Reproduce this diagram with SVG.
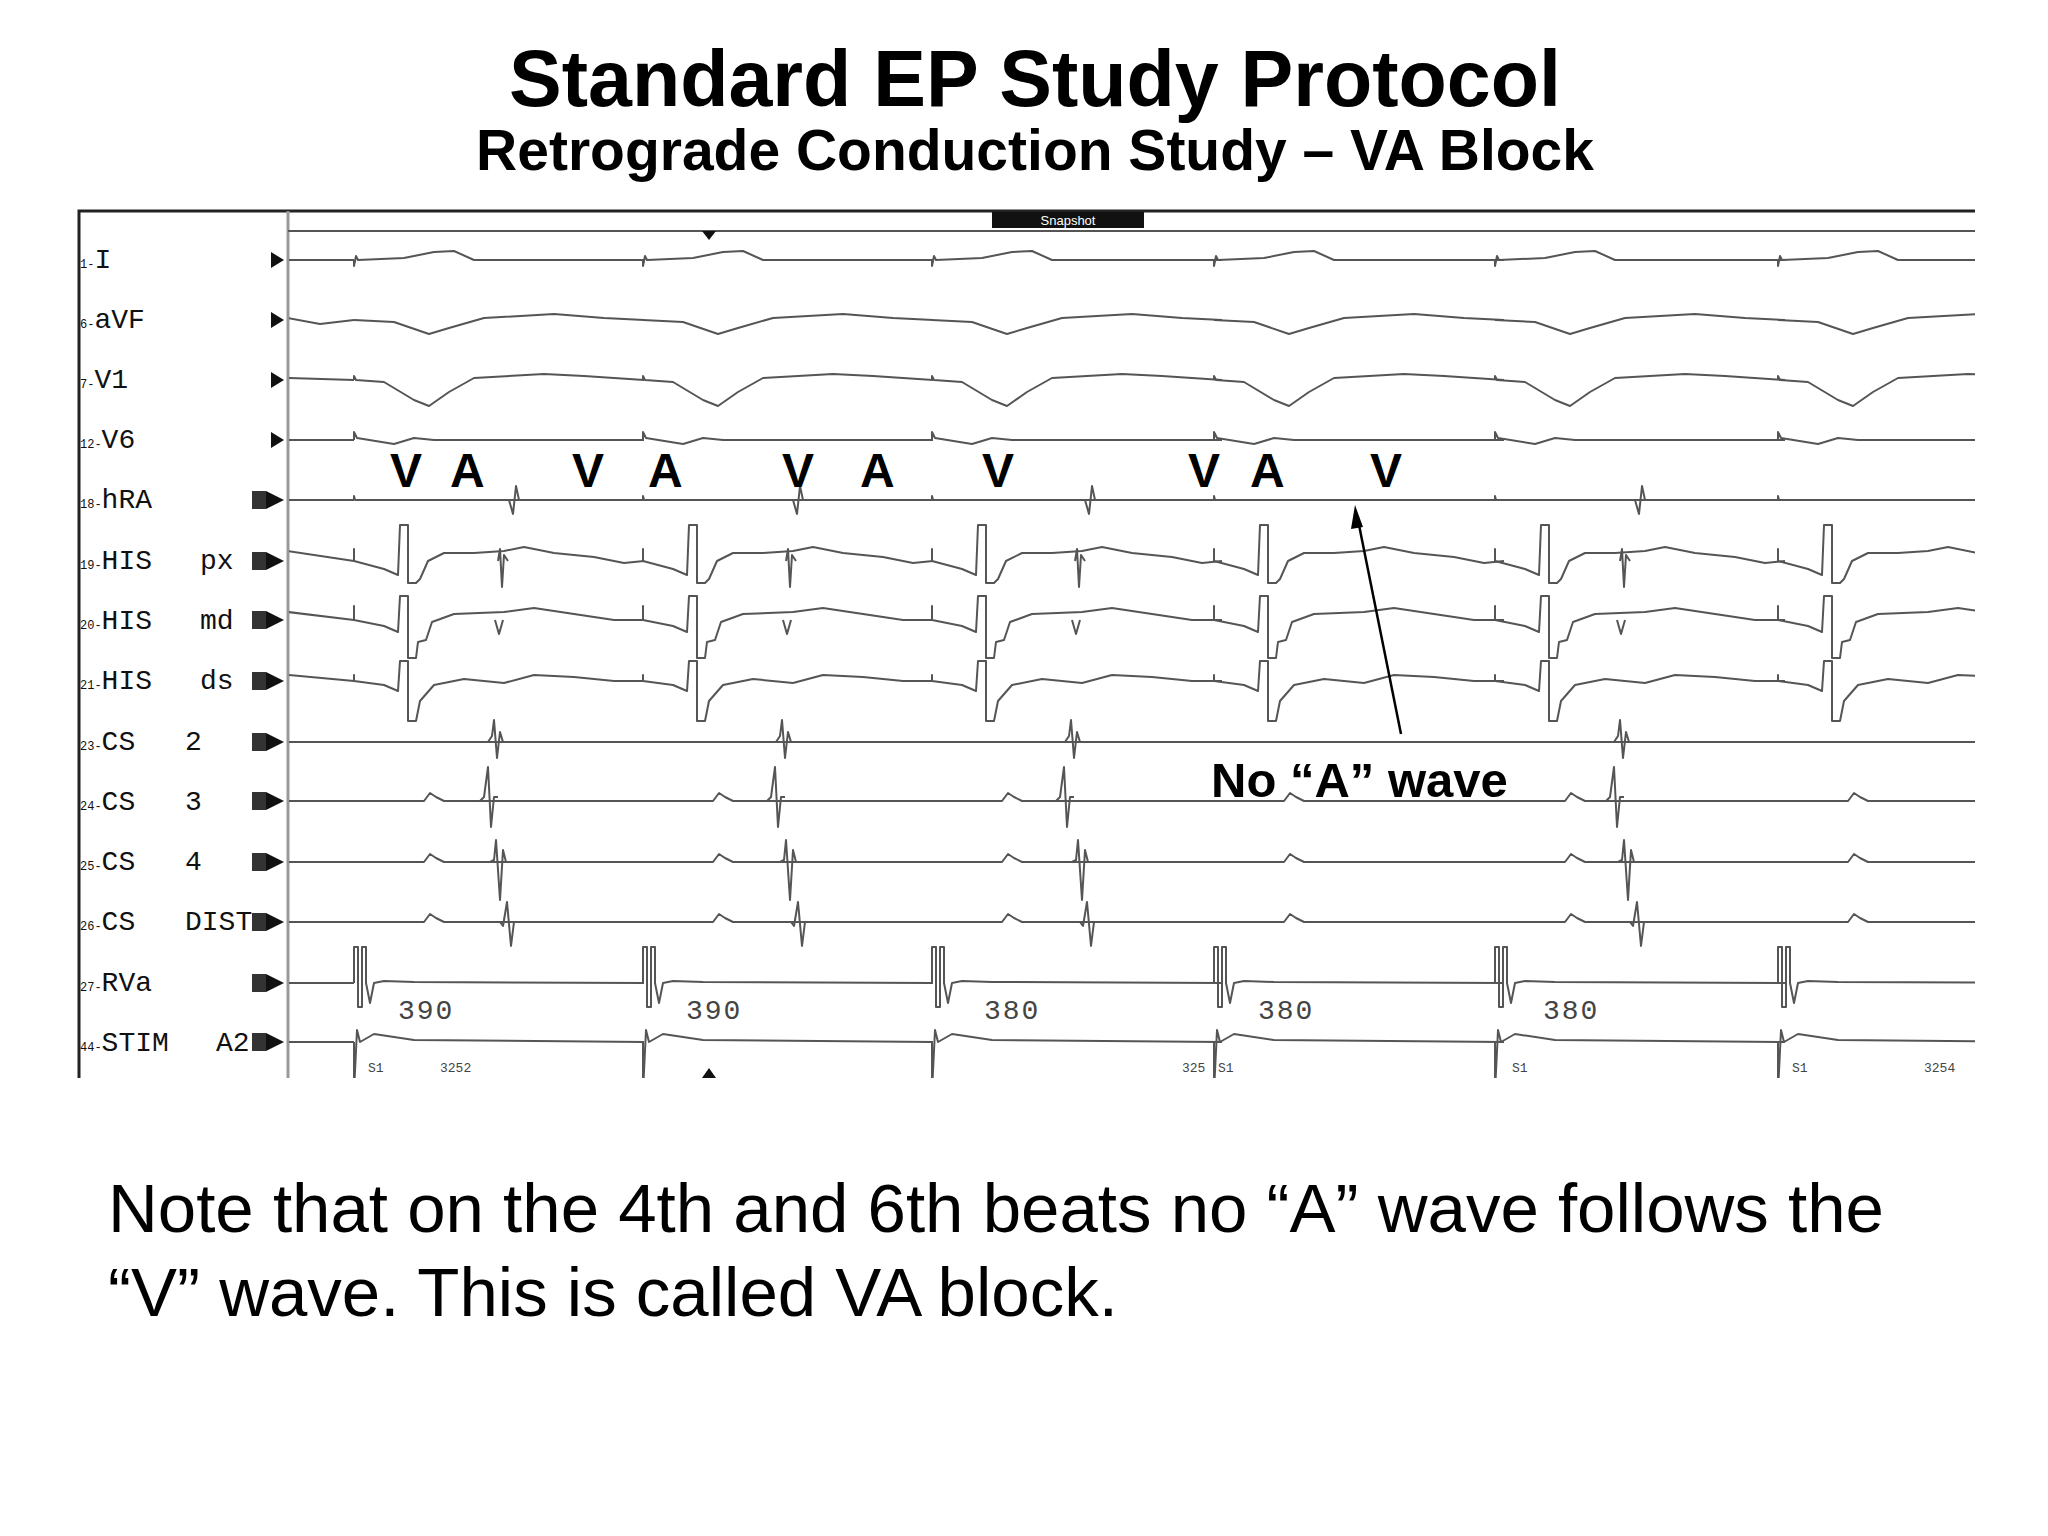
<svg xmlns="http://www.w3.org/2000/svg" xmlns:xlink="http://www.w3.org/1999/xlink" width="2048" height="1536" viewBox="0 0 2048 1536">
<style>
.t{font-family:"Liberation Sans",Arial,sans-serif;fill:#000}
.b{font-weight:bold}
.lb{font-family:"Liberation Mono","DejaVu Sans Mono",monospace;font-size:28px;fill:#111}
.pf{font-size:12px}
.tr{fill:none;stroke:#555;stroke-width:2;stroke-linejoin:round}
.nm{font-family:"Liberation Mono",monospace;font-size:28px;fill:#444;letter-spacing:2px}
.sm{font-family:"Liberation Mono",monospace;font-size:13px;fill:#444}
</style>
<defs>
<clipPath id="cp"><rect x="289" y="232" width="1686" height="846"/></clipPath>
<path id="bI" d="M0,0 l0,6 l2,-10 l2,4 L50,-2 L80,-8 L100,-9 L120,0 L290,0"/>
<path id="baVF" d="M0,0 L40,2 L75,14 L95,8 L130,-2 L200,-6 L250,-2 L290,0"/>
<path id="bV1" d="M0,0 l0,-4 l2,4 L30,2 L60,20 L75,26 L95,12 L120,-2 L190,-6 L230,-4 L290,0"/>
<path id="bV6" d="M0,0 l0,-8 l3,6 L40,4 L60,-2 L80,0 L290,0"/>
<path id="bhRA" d="M0,0 l0,-4 l1,4 L290,0"/>
<path id="aRA" d="M-8,0 l4,14 l3,-28 l3,14 l12,0"/>
<path id="bpx" d="M0,-2 l0,-10 l0,12 L30,8 L44,14 L46,-36 L54,-36 L54,22 L62,22 L66,18 L74,0 L90,-8 L120,-8 L150,-10 L170,-14 L200,-8 L240,-4 L270,2 L290,0"/>
<path id="bmd" d="M0,-2 l0,-12 l0,14 L30,6 L44,12 L46,-24 L54,-24 L54,38 L62,38 L64,22 L72,20 L78,2 L100,-6 L150,-8 L180,-12 L220,-6 L260,0 L290,0"/>
<path id="bds" d="M0,0 l0,-6 l0,6 L30,4 L44,10 L46,-20 L54,-20 L54,40 L62,40 L66,20 L80,4 L110,-2 L150,2 L180,-6 L220,-4 L260,0 L290,0"/>
<path id="apx" d="M-3,0 l2,-12 l2,38 l2,-32 l4,6"/>
<path id="amd" d="M-6,0 l4,14 l4,-14"/>
<path id="bcs" d="M0,0 L70,0 L76,-8 L82,-4 L90,0 L290,0"/>
<path id="bcs2" d="M0,0 L290,0"/>
<path id="a2" d="M-6,0 l4,-6 l2,-16 l3,38 l3,-26 l3,10 l4,0"/>
<path id="a3" d="M-6,0 l4,-4 l4,-30 l3,60 l3,-30 l4,0"/>
<path id="a4" d="M-6,0 l4,-2 l2,-20 l4,60 l3,-50 l3,12 l4,0"/>
<path id="aD" d="M-6,0 l3,4 l4,-24 l4,44 l3,-24 l4,0"/>
<path id="bRV" d="M0,0 l0,-36 l4,0 l0,60 l4,0 l0,-60 l4,0 l0,36 l4,20 l4,-20 L30,-2 L60,-1 L290,0"/>
<path id="bST" d="M0,0 l0,50 l3,-62 l3,12 L20,-8 L60,-2 L290,0"/>
</defs>

<g id="title">
<text class="t b" x="1035" y="106" font-size="79" text-anchor="middle">Standard EP Study Protocol</text>
<text class="t b" x="1035" y="170" font-size="57" text-anchor="middle">Retrograde Conduction Study – VA Block</text>
</g>

<g id="frame" fill="none">
<path d="M79,1078 L79,211 L1975,211" stroke="#222" stroke-width="3"/>
<line x1="288" y1="211" x2="288" y2="1078" stroke="#999" stroke-width="3"/>
<line x1="288" y1="231" x2="1975" y2="231" stroke="#555" stroke-width="2"/>
<rect x="992" y="212" width="152" height="16" fill="#111"/>
<text x="1068" y="225" font-family="Liberation Sans,sans-serif" font-size="13" fill="#fff" text-anchor="middle">Snapshot</text>
<polygon points="702,231 716,231 709,240" fill="#111"/>
<polygon points="702,1078 716,1078 709,1068" fill="#111"/>
</g>

<g id="labels">
<text class="lb" x="80" y="268"><tspan class="pf">1-</tspan>I</text>
<text class="lb" x="80" y="328"><tspan class="pf">6-</tspan>aVF</text>
<text class="lb" x="80" y="388"><tspan class="pf">7-</tspan>V1</text>
<text class="lb" x="80" y="448"><tspan class="pf">12-</tspan>V6</text>
<text class="lb" x="80" y="508"><tspan class="pf">18-</tspan>hRA</text>
<text class="lb" x="80" y="569"><tspan class="pf">19-</tspan>HIS</text><text class="lb" x="200" y="569">px</text>
<text class="lb" x="80" y="629"><tspan class="pf">20-</tspan>HIS</text><text class="lb" x="200" y="629">md</text>
<text class="lb" x="80" y="689"><tspan class="pf">21-</tspan>HIS</text><text class="lb" x="200" y="689">ds</text>
<text class="lb" x="80" y="750"><tspan class="pf">23-</tspan>CS</text><text class="lb" x="185" y="750">2</text>
<text class="lb" x="80" y="810"><tspan class="pf">24-</tspan>CS</text><text class="lb" x="185" y="810">3</text>
<text class="lb" x="80" y="870"><tspan class="pf">25-</tspan>CS</text><text class="lb" x="185" y="870">4</text>
<text class="lb" x="80" y="930"><tspan class="pf">26-</tspan>CS</text><text class="lb" x="185" y="930">DIST</text>
<text class="lb" x="80" y="991"><tspan class="pf">27-</tspan>RVa</text>
<text class="lb" x="80" y="1051"><tspan class="pf">44-</tspan>STIM</text><text class="lb" x="216" y="1051">A2</text>
<g fill="#111">
<polygon points="271,252 284,260 271,268"/>
<polygon points="271,312 284,320 271,328"/>
<polygon points="271,372 284,380 271,388"/>
<polygon points="271,432 284,440 271,448"/>
<rect x="252" y="491" width="14" height="18" fill="#333"/><polygon points="266,491 284,500 266,509"/>
<rect x="252" y="552" width="14" height="18" fill="#333"/><polygon points="266,552 284,561 266,570"/>
<rect x="252" y="611" width="14" height="18" fill="#333"/><polygon points="266,611 284,620 266,629"/>
<rect x="252" y="672" width="14" height="18" fill="#333"/><polygon points="266,672 284,681 266,690"/>
<rect x="252" y="733" width="14" height="18" fill="#333"/><polygon points="266,733 284,742 266,751"/>
<rect x="252" y="792" width="14" height="18" fill="#333"/><polygon points="266,792 284,801 266,810"/>
<rect x="252" y="853" width="14" height="18" fill="#333"/><polygon points="266,853 284,862 266,871"/>
<rect x="252" y="913" width="14" height="18" fill="#333"/><polygon points="266,913 284,922 266,931"/>
<rect x="252" y="974" width="14" height="18" fill="#333"/><polygon points="266,974 284,983 266,992"/>
<rect x="252" y="1033" width="14" height="18" fill="#333"/><polygon points="266,1033 284,1042 266,1051"/>
</g>
</g>

<g id="traces" class="tr" clip-path="url(#cp)">
<g transform="translate(0,260)"><path d="M288,0 L354,0"/><use href="#bI" x="354"/><use href="#bI" x="643"/><use href="#bI" x="932"/><use href="#bI" x="1214"/><use href="#bI" x="1495"/><use href="#bI" x="1778"/></g>
<g transform="translate(0,320)"><path d="M288,-2 L320,4 L354,0"/><use href="#baVF" x="354"/><use href="#baVF" x="643"/><use href="#baVF" x="932"/><use href="#baVF" x="1214"/><use href="#baVF" x="1495"/><use href="#baVF" x="1778"/></g>
<g transform="translate(0,380)"><path d="M288,-2 L354,0"/><use href="#bV1" x="354"/><use href="#bV1" x="643"/><use href="#bV1" x="932"/><use href="#bV1" x="1214"/><use href="#bV1" x="1495"/><use href="#bV1" x="1778"/></g>
<g transform="translate(0,440)"><path d="M288,0 L354,0"/><use href="#bV6" x="354"/><use href="#bV6" x="643"/><use href="#bV6" x="932"/><use href="#bV6" x="1214"/><use href="#bV6" x="1495"/><use href="#bV6" x="1778"/></g>
<g transform="translate(0,500)"><path d="M288,0 L354,0"/><use href="#bhRA" x="354"/><use href="#bhRA" x="643"/><use href="#bhRA" x="932"/><use href="#bhRA" x="1214"/><use href="#bhRA" x="1495"/><use href="#bhRA" x="1778"/><use href="#aRA" x="517"/><use href="#aRA" x="801"/><use href="#aRA" x="1093"/><use href="#aRA" x="1643"/></g>
<g transform="translate(0,561)"><path d="M288,-10 L354,0"/><use href="#bpx" x="354"/><use href="#bpx" x="643"/><use href="#bpx" x="932"/><use href="#bpx" x="1214"/><use href="#bpx" x="1495"/><use href="#bpx" x="1778"/><use href="#apx" x="501"/><use href="#apx" x="789"/><use href="#apx" x="1078"/><use href="#apx" x="1623"/></g>
<g transform="translate(0,620)"><path d="M288,-8 L354,0"/><use href="#bmd" x="354"/><use href="#bmd" x="643"/><use href="#bmd" x="932"/><use href="#bmd" x="1214"/><use href="#bmd" x="1495"/><use href="#bmd" x="1778"/><use href="#amd" x="501"/><use href="#amd" x="789"/><use href="#amd" x="1078"/><use href="#amd" x="1623"/></g>
<g transform="translate(0,681)"><path d="M288,-6 L354,0"/><use href="#bds" x="354"/><use href="#bds" x="643"/><use href="#bds" x="932"/><use href="#bds" x="1214"/><use href="#bds" x="1495"/><use href="#bds" x="1778"/></g>
<g transform="translate(0,742)"><path d="M288,0 L354,0"/><use href="#bcs2" x="354"/><use href="#bcs2" x="643"/><use href="#bcs2" x="932"/><use href="#bcs2" x="1214"/><use href="#bcs2" x="1495"/><use href="#bcs2" x="1778"/><use href="#a2" x="494"/><use href="#a2" x="782"/><use href="#a2" x="1071"/><use href="#a2" x="1620"/></g>
<g transform="translate(0,801)"><path d="M288,0 L354,0"/><use href="#bcs" x="354"/><use href="#bcs" x="643"/><use href="#bcs" x="932"/><use href="#bcs" x="1214"/><use href="#bcs" x="1495"/><use href="#bcs" x="1778"/><use href="#a3" x="486"/><use href="#a3" x="773"/><use href="#a3" x="1062"/><use href="#a3" x="1612"/></g>
<g transform="translate(0,862)"><path d="M288,0 L354,0"/><use href="#bcs" x="354"/><use href="#bcs" x="643"/><use href="#bcs" x="932"/><use href="#bcs" x="1214"/><use href="#bcs" x="1495"/><use href="#bcs" x="1778"/><use href="#a4" x="496"/><use href="#a4" x="786"/><use href="#a4" x="1078"/><use href="#a4" x="1624"/></g>
<g transform="translate(0,922)"><path d="M288,0 L354,0"/><use href="#bcs" x="354"/><use href="#bcs" x="643"/><use href="#bcs" x="932"/><use href="#bcs" x="1214"/><use href="#bcs" x="1495"/><use href="#bcs" x="1778"/><use href="#aD" x="506"/><use href="#aD" x="797"/><use href="#aD" x="1086"/><use href="#aD" x="1636"/></g>
<g transform="translate(0,983)"><path d="M288,0 L354,0"/><use href="#bRV" x="354"/><use href="#bRV" x="643"/><use href="#bRV" x="932"/><use href="#bRV" x="1214"/><use href="#bRV" x="1495"/><use href="#bRV" x="1778"/></g>
<g transform="translate(0,1042)"><path d="M288,0 L354,0"/><use href="#bST" x="354"/><use href="#bST" x="643"/><use href="#bST" x="932"/><use href="#bST" x="1214"/><use href="#bST" x="1495"/><use href="#bST" x="1778"/></g>
</g>

<g id="numbers">
<text class="nm" x="398" y="1019">390</text>
<text class="nm" x="686" y="1019">390</text>
<text class="nm" x="984" y="1019">380</text>
<text class="nm" x="1258" y="1019">380</text>
<text class="nm" x="1543" y="1019">380</text>
<text class="sm" x="368" y="1072">S1</text><text class="sm" x="440" y="1072">3252</text>
<text class="sm" x="1182" y="1072">325</text><text class="sm" x="1218" y="1072">S1</text>
<text class="sm" x="1512" y="1072">S1</text>
<text class="sm" x="1792" y="1072">S1</text><text class="sm" x="1924" y="1072">3254</text>
</g>

<g id="va-labels" class="t b" font-size="48">
<text x="390" y="487">V</text><text x="450" y="487">A</text>
<text x="572" y="487">V</text><text x="648" y="487">A</text>
<text x="782" y="487">V</text><text x="860" y="487">A</text>
<text x="982" y="487">V</text>
<text x="1188" y="487">V</text><text x="1250" y="487">A</text>
<text x="1370" y="487">V</text>
</g>

<g id="annotation">
<text class="t b" x="1211" y="797" font-size="49">No “A” wave</text>
<line x1="1401" y1="734" x2="1358" y2="520" stroke="#000" stroke-width="2.5"/>
<polygon points="1355,505 1363,527 1351,529" fill="#000"/>
</g>

<g id="note" class="t" font-size="69">
<text x="108" y="1232">Note that on the 4th and 6th beats no “A” wave follows the</text>
<text x="108" y="1316">“V” wave. This is called VA block.</text>
</g>
</svg>
